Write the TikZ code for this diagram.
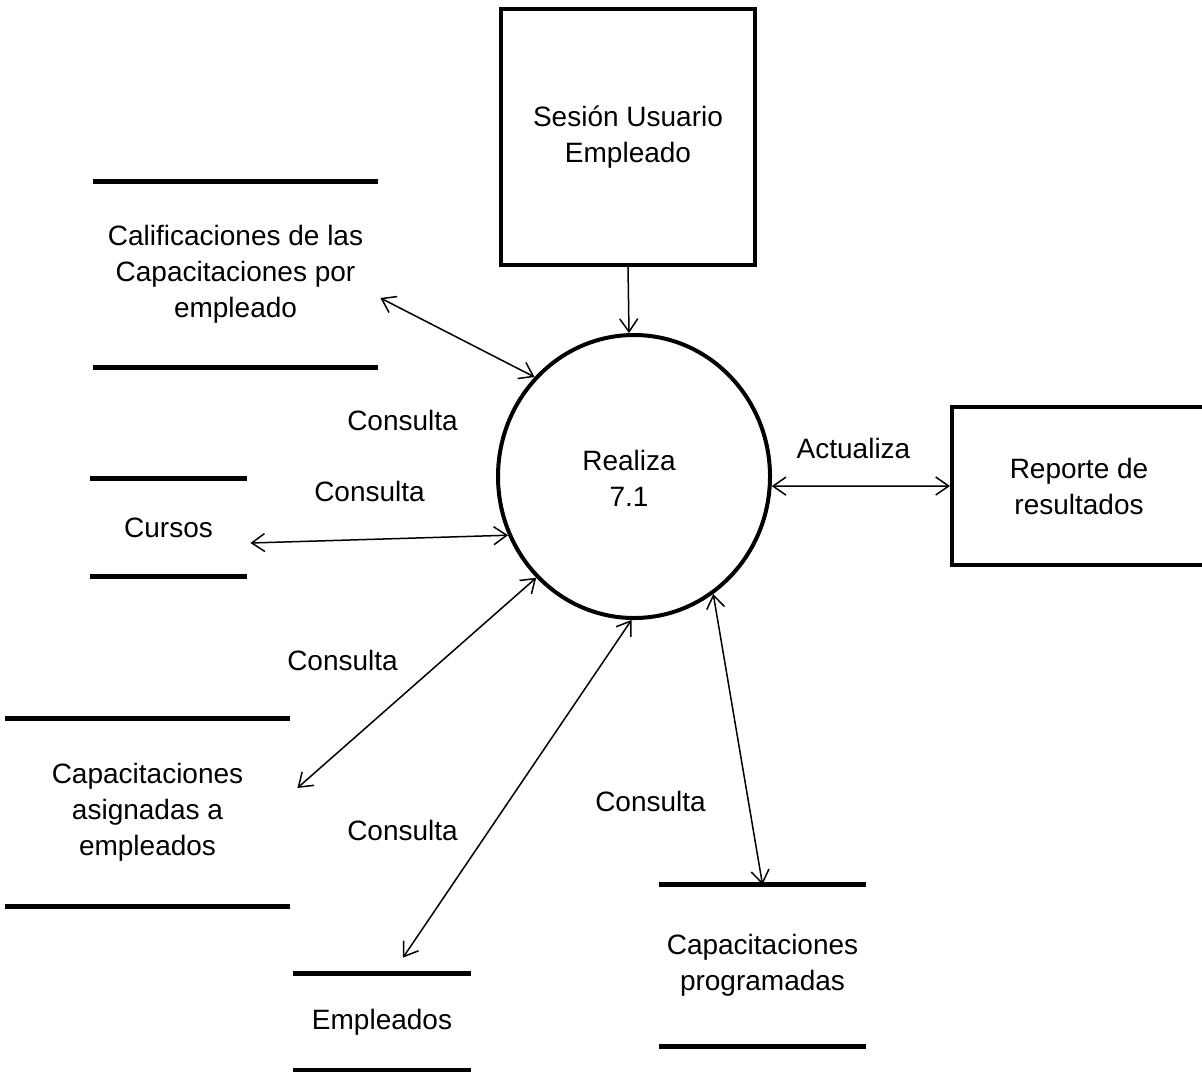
\documentclass[tikz,border=0pt]{standalone}
\usepackage{fontspec}
\setmainfont{Liberation Sans}
\usetikzlibrary{shapes.geometric,arrows.meta,calc}
\begin{document}
\begin{tikzpicture}[x=0.5pt,y=-0.5pt,
  every node/.style={font=\fontsize{14}{18}\selectfont, inner sep=0pt, align=center},
  entity/.style={draw, rectangle, line width=2pt},
  proc/.style={draw, ellipse, line width=2pt, minimum width=136pt, minimum height=141.5pt},
  store/.style={rectangle, inner sep=0pt},
  storeline/.style={line width=2.5pt},
  barb/.tip={Straight Barb[length=6.5pt,width=9pt]},
  flow/.style={line width=0.75pt, barb-barb},
  inflow/.style={line width=0.75pt, -barb}
]
\useasboundingbox (0,0) rectangle (1202,1071);

% external entities
\node[entity, minimum width=127pt, minimum height=128pt] (ses) at (628,137) {Sesión Usuario\\Empleado};
\node[entity, minimum width=127pt, minimum height=79pt] (rep) at (1079,486) {Reporte de\\resultados};

% process
\node[proc] (c) at (634,476.5) {};
\node (ct) at (629,478) {Realiza\\7.1};

% data stores
\node[store, minimum width=142.5pt, minimum height=92.5pt] (s1) at (235.5,274.5) {Calificaciones de las\\Capacitaciones por\\empleado};
\node[store, minimum width=78.5pt, minimum height=48.5pt] (s2) at (168.5,527.5) {Cursos};
\node[store, minimum width=142.5pt, minimum height=93.5pt] (s3) at (147.5,812.5) {Capacitaciones\\asignadas a\\empleados};
\node[store, minimum width=89pt, minimum height=48pt] (s4) at (382,1022) {Empleados};
\node[store, minimum width=103.5pt, minimum height=80.5pt] (s5) at (762.5,965.5) {Capacitaciones\\programadas};

\foreach \s in {s1,s2,s3,s4,s5}{
  \draw[storeline] (\s.north west) -- (\s.north east) (\s.south west) -- (\s.south east);
}

% flows
\draw[inflow] (ses.south) -- (c.92);
\draw[flow] (c.135) -- ($(s1.east)+(2,23.5)$);
\draw[flow] (c.205) -- ($(s2.east)+(3,15.5)$);
\draw[flow] (c.226) -- ($(s3.east)+(7,-24.5)$);
\draw[flow] (c.269) -- ($(s4.north)+(21,-16)$);
\draw[flow] (c.304) -- (s5.north);
\draw[flow] (c.356) -- (rep.west);

% labels
\node (l1) at (402.5,420) {Consulta};
\node (l2) at (369.5,491) {Consulta};
\node (l3) at (342.5,660) {Consulta};
\node (l4) at (402.5,830) {Consulta};
\node (l5) at (650.5,801) {Consulta};
\node (l6) at (853.5,448) {Actualiza};
\end{tikzpicture}
\end{document}
